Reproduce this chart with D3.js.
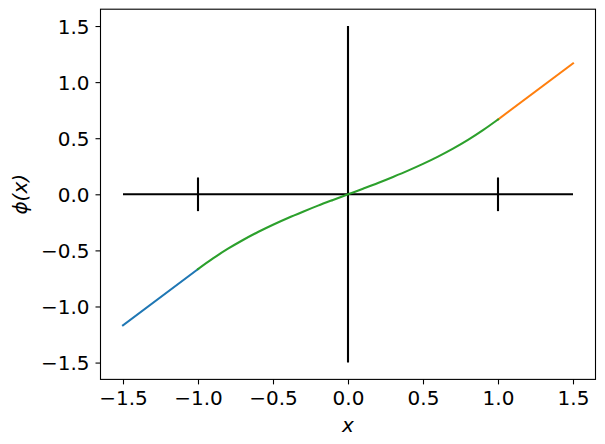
<!DOCTYPE html>
<html>
<head>
<meta charset="utf-8">
<script src="https://cdn.jsdelivr.net/npm/d3@7"></script>
<style>
  html, body { margin: 0; padding: 0; background: #fff; }
  svg { display: block; }
  .tick text { font-family: "DejaVu Sans", sans-serif; font-size: 20px; fill: #000; }
</style>
</head>
<body>
<svg id="chart" width="605" height="444"></svg>
<script>
// ---- data ----
const xTicks = [-1.5, -1.0, -0.5, 0.0, 0.5, 1.0, 1.5];
const yTicks = [-1.5, -1.0, -0.5, 0.0, 0.5, 1.0, 1.5];

const leftX = [-1.5, -1.0];
const leftY = [-1.167, -0.667];
const rightX = [1.0, 1.5];
const rightY = [0.667, 1.167];
const midX = [-1.0, -0.9, -0.8, -0.7, -0.6, -0.5, -0.4, -0.3, -0.2, -0.1, 0.0,
               0.1, 0.2, 0.3, 0.4, 0.5, 0.6, 0.7, 0.8, 0.9, 1.0];
const midY = [-0.667, -0.572, -0.485, -0.407, -0.336, -0.271, -0.211, -0.155, -0.101, -0.050, 0.0,
               0.050, 0.101, 0.155, 0.211, 0.271, 0.336, 0.407, 0.485, 0.572, 0.667];

// reference cross lines: [x1, y1, x2, y2]
const crossLines = [
  [-1.5, 0, 1.5, 0],
  [0, -1.5, 0, 1.5],
  [-1, -0.15, -1, 0.15],
  [1, -0.15, 1, 0.15]
];

const xDomain = [-1.65, 1.65];
const yDomain = [-1.65, 1.65];

// ---- layout ----
const plot = { left: 100.5, right: 595.5, top: 9.2, bottom: 379.4 };
const svg = d3.select("#chart");

const x = d3.scaleLinear().domain(xDomain).range([plot.left, plot.right]);
const y = d3.scaleLinear().domain(yDomain).range([plot.bottom, plot.top]);

const fmt = v => d3.format(".1f")(v).replace("-", "\u2212");

// cross lines (drawn first, under curves)
svg.append("g").selectAll("line").data(crossLines).join("line")
  .attr("x1", d => x(d[0])).attr("y1", d => y(d[1]))
  .attr("x2", d => x(d[2])).attr("y2", d => y(d[3]))
  .attr("stroke", "#000").attr("stroke-width", 2.1);

const line = d3.line().x(d => x(d[0])).y(d => y(d[1]));
const smooth = d3.line().x(d => x(d[0])).y(d => y(d[1])).curve(d3.curveMonotoneX);

const series = [
  { xs: leftX, ys: leftY, color: "#1f77b4", gen: line },
  { xs: rightX, ys: rightY, color: "#ff7f0e", gen: line },
  { xs: midX, ys: midY, color: "#2ca02c", gen: smooth }
];
series.forEach(s => {
  const pts = s.xs.map((v, i) => [v, s.ys[i]]);
  svg.append("path").attr("d", s.gen(pts))
    .attr("fill", "none").attr("stroke", s.color)
    .attr("stroke-width", 2.1).attr("stroke-linecap", "square");
});

// axes
const xAxis = svg.append("g").attr("transform", `translate(0,${plot.bottom})`)
  .call(d3.axisBottom(x).tickValues(xTicks).tickFormat(fmt).tickSize(5).tickPadding(5));
const yAxis = svg.append("g").attr("transform", `translate(${plot.left},0)`)
  .call(d3.axisLeft(y).tickValues(yTicks).tickFormat(fmt).tickSize(5).tickPadding(6));
[xAxis, yAxis].forEach(g => {
  g.select(".domain").remove();
  g.selectAll(".tick line").attr("stroke", "#000").attr("stroke-width", 1.1);
  g.attr("font-family", null).attr("font-size", null);
});
xAxis.selectAll(".tick text").attr("dy", null).attr("y", 25.6);
yAxis.selectAll(".tick text").attr("dy", "0.36em");

// frame
svg.append("rect")
  .attr("x", plot.left).attr("y", plot.top)
  .attr("width", plot.right - plot.left).attr("height", plot.bottom - plot.top)
  .attr("fill", "none").attr("stroke", "#000").attr("stroke-width", 1.1);

// axis labels
svg.append("text").attr("x", x(0)).attr("y", 432)
  .attr("text-anchor", "middle")
  .attr("font-family", "DejaVu Sans, sans-serif").attr("font-size", 20)
  .attr("font-style", "italic").text("x");

svg.append("text")
  .attr("transform", `translate(27,${y(0)}) rotate(-90)`)
  .attr("text-anchor", "middle")
  .attr("font-family", "DejaVu Sans, sans-serif").attr("font-size", 20)
  .attr("font-style", "italic").text("\u03d5(x)");
</script>
</body>
</html>
